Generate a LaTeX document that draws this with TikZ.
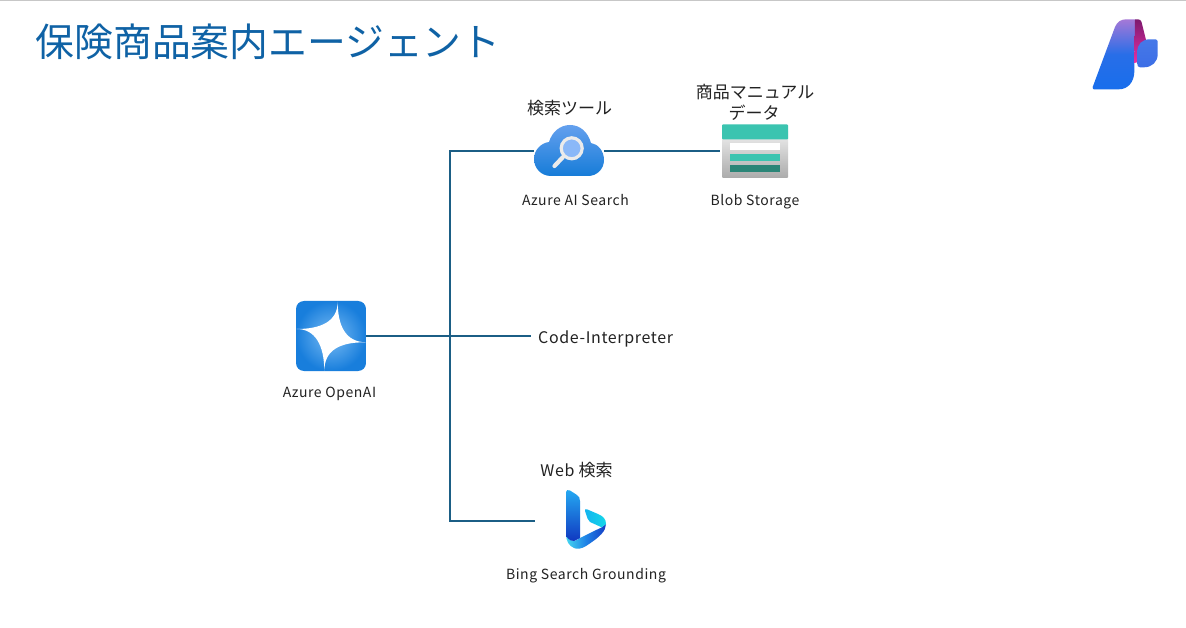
\documentclass[tikz,border=0pt]{standalone}
\usepackage{fontspec}
\setmainfont{Noto Sans CJK JP}[LetterSpace=4]
\newfontfamily\jpfont{Noto Sans CJK JP}
\usetikzlibrary{shadings}
\definecolor{linec}{HTML}{1B5E85}
\definecolor{titlec}{HTML}{0F62A5}
\definecolor{labelc}{HTML}{222222}
\newcommand{\jp}[1]{{\jpfont\fontsize{17}{21}\selectfont #1}}
\tikzset{
  x=1pt,y=-1pt,
  conn/.style={draw=linec,line width=2.5pt},
  lbl/.style={text=labelc,font=\fontsize{14}{21}\selectfont,inner sep=0pt,align=center,anchor=base},
  biglbl/.style={text=labelc,font=\fontsize{16}{21}\selectfont,inner sep=0pt,align=center,anchor=base},
}
\begin{document}
\begin{tikzpicture}
\useasboundingbox (0,0) rectangle (1186,628);
\fill[white] (0,0) rectangle (1186,628);
\fill[black!22] (0,0) rectangle (1186,1);
\node[anchor=west,inner sep=0pt,text=titlec,font=\jpfont\fontsize{38.8}{40}\selectfont] (title) at (35.5,42) {保険商品案内エージェント};

% anchor nodes
\node[minimum width=70pt,minimum height=70pt,inner sep=0pt] (openai) at (331,336) {};
\node[minimum width=70pt,minimum height=52pt,inner sep=0pt] (search) at (569,151) {};
\node[minimum width=70pt,minimum height=54pt,inner sep=0pt] (blob) at (755,151) {};
\node[minimum width=62pt,minimum height=60pt,inner sep=0pt] (bing) at (566,520) {};
\node[biglbl,anchor=base west] (code) at (538,343) {Code-Interpreter};
\coordinate (codein) at (531,336);
\coordinate (bustop) at (450,151);
\coordinate (busbot) at (450,521);

% connectors
\draw[conn] (openai.east) -- (codein);
\draw[conn] (search.west) -- (bustop) -- (busbot) -- (bing.west |- busbot);
\draw[conn] (search.east) -- (blob.west);

% Azure OpenAI icon
\shade[inner color={rgb,255:red,122;green,188;blue,244},outer color={rgb,255:red,24;green,126;blue,220},rounded corners=8pt] (296,301) rectangle (366,371);
\fill[white] (337.7,301.7) .. controls (337.7,325) and (345,342) .. (366,342.3)
  .. controls (340,342) and (324.3,350) .. (324.3,371)
  .. controls (324.3,345) and (315,329) .. (296.7,329)
  .. controls (320,329) and (337.7,322) .. (337.7,301.7) -- cycle;

% Search icon
\shade[top color={rgb,255:red,100;green,160;blue,238},bottom color={rgb,255:red,22;green,124;blue,216}]
  (551,176) .. controls (541,176) and (534,168) .. (534,159)
  .. controls (534,150) and (541,143) .. (549,142)
  .. controls (552,132) and (560,125) .. (570,125)
  .. controls (580,125) and (588,132) .. (591,143)
  .. controls (598,144) and (604,151) .. (604,160)
  .. controls (604,169) and (597,176) .. (588,176) -- cycle;
\draw[white!92!black,line width=4.2pt,line cap=round] (563,157) -- (554.5,166);
\draw[white!92!black,line width=3.2pt,fill={rgb,255:red,138;green,184;blue,248}] (571.7,148.3) circle (10.5);

% Blob icon
\shade[top color=white!94!black,bottom color=black!33,rounded corners=1pt] (722,130) rectangle (788,178);
\fill[rounded corners=1pt,fill={rgb,255:red,59;green,196;blue,176}] (722,124.3) rectangle (788,139.5);
\fill[white] (730,143.3) rectangle (780,150);
\fill[fill={rgb,255:red,59;green,196;blue,176}] (730,154) rectangle (780,161);
\fill[fill={rgb,255:red,42;green,133;blue,119}] (730,165) rectangle (780,172);

% Bing icon
\shade[left color={rgb,255:red,70;green,215;blue,240},right color={rgb,255:red,20;green,60;blue,196},middle color={rgb,255:red,30;green,130;blue,230}]
  (566,534) .. controls (567,538) and (570,541) .. (574,541) .. controls (576,541) and (578,539) .. (580,538)
  -- (601.7,527.3) -- (606,524)
  .. controls (606,531) and (600,537) .. (586,546) .. controls (581,549) and (577,549.5) .. (574,548)
  .. controls (569,546) and (566,541) .. (566,534) -- cycle;
\shade[top color={rgb,255:red,37;green,170;blue,242},bottom color={rgb,255:red,16;green,56;blue,192}]
  (566,492) .. controls (566,490) and (568,489.5) .. (570,490.5) -- (577,495)
  .. controls (579,496.5) and (580,498) .. (580,501) -- (580,538) -- (574,541) .. controls (570,541) and (566,538) .. (566,534) -- cycle;
\shade[left color={rgb,255:red,20;green,180;blue,240},right color={rgb,255:red,20;green,215;blue,232}]
  (585,511) .. controls (584.5,509.5) and (585.5,508.5) .. (587,509.3) -- (598,514)
  .. controls (603,516) and (606,519) .. (606,524) -- (601.7,527.3) -- (590,522) .. controls (588.5,521) and (588,520) .. (587.5,518.5) -- cycle;

% Logo
\shade[top color={rgb,255:red,165;green,120;blue,215},bottom color={rgb,255:red,24;green,110;blue,236},middle color={rgb,255:red,40;green,110;blue,232}]
  (1092.7,87) -- (1115,27) .. controls (1117,22) and (1121,19.3) .. (1126,19.3) -- (1135,19.3)
  -- (1134.3,72) .. controls (1134,82) and (1128,89.3) .. (1119,89.3) -- (1094,89.3) .. controls (1093,89.3) and (1092.3,88.3) .. (1092.7,87) -- cycle;
\shade[top color={rgb,255:red,125;green,25;blue,110},bottom color={rgb,255:red,232;green,48;blue,165}]
  (1135,19.3) -- (1138,19.3) .. controls (1140,19.3) and (1141,20.5) .. (1141.5,22) -- (1146,40) -- (1146,60) -- (1134.3,63) -- cycle;
\shade[top color={rgb,255:red,70;green,120;blue,232},bottom color={rgb,255:red,60;green,110;blue,230}]
  (1137.3,63.5) -- (1137.3,52) .. controls (1137.3,44) and (1142,39.3) .. (1150,39.3) -- (1156,39.3)
  .. controls (1157.2,39.3) and (1157.7,40) .. (1157.7,41) -- (1157.7,54) .. controls (1157.7,62) and (1152,67.3) .. (1144,67.3) -- (1140,67.3)
  .. controls (1138,67.3) and (1137.3,66) .. (1137.3,63.5) -- cycle;

% labels
\node[lbl] (l1) at (569.5,114.5) {\jp{検索ツール}};
\node[lbl] (l2a) at (755,98.5) {\jp{商品マニュアル}};
\node[lbl] (l2b) at (754,119.5) {\jp{データ}};
\node[lbl] (l3) at (575.5,206) {Azure AI Search};
\node[lbl] (l4) at (755,206) {Blob Storage};
\node[lbl] (l5) at (329.5,397) {Azure OpenAI};
\node[biglbl] (l6) at (576.5,476) {Web {\jp{\fontsize{17}{21}\selectfont 検索}}};
\node[lbl] (l7) at (586,579.5) {Bing Search Grounding};
\end{tikzpicture}
\end{document}
